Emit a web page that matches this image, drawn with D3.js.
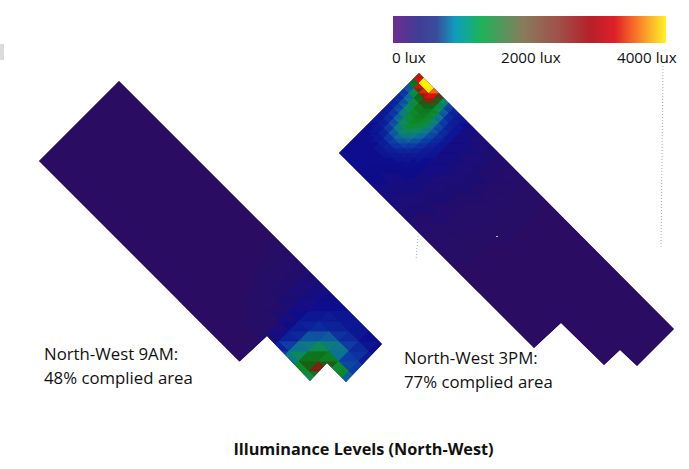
<!DOCTYPE html>
<html><head><meta charset="utf-8">
<script src="https://cdn.jsdelivr.net/npm/d3@7"></script>
<style>html,body{margin:0;padding:0;background:#fff}svg{display:block}text{font-family:"Open Sans",sans-serif;fill:#111}</style>
</head><body><svg id="c" width="689" height="469"></svg>
<script>
// Illuminance ramps
const rampLux = [0,100,250,500,800,1100,1400,1900,2500,3000,3700];
const rampColors = ["#2e0660","#220a6c","#0c1090","#0b3aa5","#0d7098","#0e8a5a","#0a8a28","#0a6a1a","#7a2510","#e01010","#ffee00"];
const legendOffsets = [0,0.1,0.16,0.23,0.32,0.48,0.61,0.72,0.81,0.88,0.94,1];
const legendColors = ["#6e2c91","#3d3f96","#3a4d9c","#0e9fc0","#1cb35a","#8a7a5c","#a04f48","#b5212a","#dc1f28","#f6682a","#fbb02a","#fff22a"];
const legendTicks = ["0 lux","2000 lux","4000 lux"];
const captionLeft = ["North-West 9AM:","48% complied area"];
const captionRight = ["North-West 3PM:","77% complied area"];
const title = "Illuminance Levels (North-West)";
const baseLux = 20;

// Room outlines in plan units (u along the long side, v across)
const leftOutlineU = [0,0,26.3,26.4,24.5,24.55,20.15,20.05];
const leftOutlineV = [0,8,8,4.3,4.3,2.55,2.65,0];
const rightOutlineU = [0,0,25.55,25.55,23.9,23.85,19.6,19.5];
const rightOutlineV = [0,8,7.95,4.25,4.2,2.65,2.6,0];

// Left room lux at mesh nodes
const leftU = [14,15,16,17,18,19,20,21,22,23,24,25,26,27];
const leftV = [0,1,2,3,4,5,6,7,8];
const leftLux = [
[20,20,20,20,20,20,20,20,20],
[20,20,20,20,20,20,20,25,30],
[20,20,20,20,20,30,35,45,50],
[20,20,20,25,35,50,60,65,70],
[20,20,25,40,60,70,85,90,90],
[20,25,35,60,80,100,120,125,120],
[20,30,50,80,120,150,165,170,160],
[20,35,60,250,260,270,250,220,200],
[40,50,700,800,520,430,340,280,230],
[40,50,1000,1200,1200,1000,450,300,250],
[40,50,1100,2000,2800,1300,600,320,260],
[40,50,300,600,2700,500,650,300,240],
[40,50,300,500,800,800,420,270,230],
[40,50,300,500,500,500,300,250,220]];

// Right room lux at coarse mesh nodes
const rightU = [0,1,2,3,4,5,6,7,8,9,10,11,12,13,14];
const rightV = [0,1,2,3,4,5,6,7,8];
const rightLux = [
[260,250,240,250,280,300,330,340,340],
[250,245,240,260,300,330,340,340,340],
[240,240,240,260,300,330,340,340,330],
[220,225,230,250,280,300,300,290,280],
[190,200,210,225,250,260,260,250,240],
[160,170,180,190,210,220,220,210,200],
[130,140,150,160,175,180,180,175,170],
[105,115,125,135,145,150,150,145,140],
[85,95,100,110,118,122,122,118,115],
[70,75,80,88,95,98,98,95,92],
[55,60,65,70,75,78,78,76,74],
[42,46,50,55,58,60,60,58,56],
[32,35,38,42,44,45,45,44,42],
[26,28,30,32,34,35,35,34,32],
[20,22,24,25,26,27,27,26,25]];

// Right room lux at fine mesh nodes around the hot spot
const hotU = [0,0.5,1,1.5,2,2.5,3,3.5,4,4.5,5];
const hotV = [2,2.5,3,3.5,4,4.5,5,5.5,6,6.5,7,7.5,8];
const hotLux = [
[240,245,250,260,270,280,300,320,350,400,550,1300,3000],
[240,250,265,285,320,350,400,450,520,650,1000,3700,4000],
[240,260,290,340,420,520,650,800,900,1100,2000,4000,4000],
[245,280,340,460,680,850,1050,1250,1400,1700,2600,3200,3800],
[250,300,400,620,900,1200,1400,1500,1600,1800,2400,3000,2800],
[240,290,400,580,800,1050,1250,1400,1500,1600,1700,1500,1200],
[230,270,320,420,600,780,950,1100,1200,1200,1000,700,600],
[220,250,280,340,420,520,620,720,750,650,500,420,380],
[215,230,250,280,320,370,420,460,470,420,360,330,320],
[210,220,230,245,270,290,310,330,330,320,300,300,300],
[210,215,220,225,235,250,260,270,270,260,250,240,230]];

const svg = d3.select("#c");
const ramp = d3.scaleLinear().domain(rampLux).range(rampColors).clamp(true);
// Dim triangles are binned so that near-equal neighbours share one exact colour
const color = m => ramp(m < 200 ? Math.round(m/25)*25 : m);
const defs = svg.append("defs");
defs.append("filter").attr("id","soft").attr("x","-5%").attr("y","-5%").attr("width","110%").attr("height","110%")
  .append("feGaussianBlur").attr("stdDeviation",0.5);

function drawRoom(id, x0, y0, k, outU, outV, meshes){
  const xs = d3.scaleLinear().domain([0,1]).range([x0,x0+k]);
  const ys = d3.scaleLinear().domain([0,1]).range([y0,y0+k]);
  const pt = (u,v)=>[xs(u+v),ys(u-v)];
  const outline = d3.line()(outU.map((u,i)=>pt(u,outV[i])))+"Z";
  defs.append("clipPath").attr("id",id).append("path").attr("d",outline);
  svg.append("path").attr("d",outline).attr("fill",color(baseLux));
  const g = svg.append("g").attr("clip-path",`url(#${id})`).append("g").attr("filter","url(#soft)");
  g.append("path").attr("d",outline).attr("fill",color(baseLux));
  meshes.forEach(([us,vs,lux])=>{
    const tris=[];
    for(let i=0;i<us.length-1;i++)for(let j=0;j<vs.length-1;j++){
      const a=[us[i],vs[j],lux[i][j]],b=[us[i+1],vs[j],lux[i+1][j]],
            c=[us[i+1],vs[j+1],lux[i+1][j+1]],d=[us[i],vs[j+1],lux[i][j+1]];
      tris.push([a,b,c],[a,c,d]);
    }
    g.selectAll(null).data(tris).join("path")
      .attr("d",t=>d3.line()(t.map(n=>pt(n[0],n[1])))+"Z")
      .attr("fill",t=>color(d3.mean(t,n=>n[2])))
      .attr("stroke",t=>color(d3.mean(t,n=>n[2])))
      .attr("stroke-width",0.8);
  });
}
drawRoom("roomL",39,161,10,leftOutlineU,leftOutlineV,[[leftU,leftV,leftLux]]);
drawRoom("roomR",339,153,10,rightOutlineU,rightOutlineV,[[rightU,rightV,rightLux],[hotU,hotV,hotLux]]);

// Legend
const grad = defs.append("linearGradient").attr("id","lg");
legendOffsets.forEach((o,i)=>grad.append("stop").attr("offset",o).attr("stop-color",legendColors[i]));
const lx = d3.scaleLinear().domain([0,4000]).range([393,666]);
svg.append("rect").attr("x",lx(0)).attr("y",16).attr("width",lx(4000)-lx(0)).attr("height",27).attr("fill","url(#lg)");
const tickX = [392,501,617];
legendTicks.forEach((t,i)=>svg.append("text").attr("x",tickX[i]).attr("y",62.5).attr("font-size",15.2).text(t));

// Captions and title
function caption(lines,x,y){lines.forEach((t,i)=>svg.append("text").attr("x",x).attr("y",y+i*24).attr("font-size",16.8).text(t));}
caption(captionLeft,44,360);
caption(captionRight,404,364);
svg.append("text").attr("x",363.5).attr("y",454.5).attr("text-anchor","middle").attr("font-size",16.25).attr("font-weight",700).text(title);

// Stray marks from the source figure
svg.append("rect").attr("x",0).attr("y",44).attr("width",4).attr("height",16).attr("fill","#dcdcdc");
svg.append("rect").attr("x",496).attr("y",236).attr("width",2).attr("height",1).attr("fill","#bbbbbb");
const stray = [[663,66,661,247],[418,236,416,260]];
svg.selectAll(null).data(stray).join("line")
  .attr("x1",d=>d[0]).attr("y1",d=>d[1]).attr("x2",d=>d[2]).attr("y2",d=>d[3])
  .attr("stroke","#a8a8a8").attr("stroke-width",1).attr("stroke-dasharray","1 2");
</script></body></html>
